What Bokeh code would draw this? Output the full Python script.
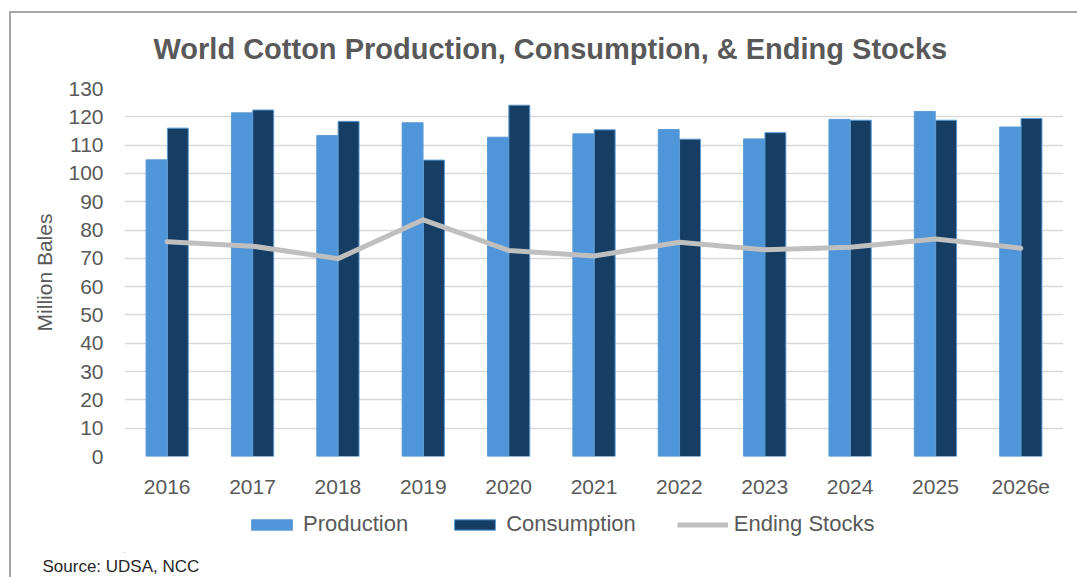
from bokeh.plotting import figure
from bokeh.layouts import column
from bokeh.models import (Range1d, FactorRange, Legend, LegendItem, Title,
                          ColumnDataSource, FixedTicker, InlineStyleSheet)
from bokeh.transform import dodge
from bokeh.embed import file_html
from bokeh.resources import INLINE

years = ["2016", "2017", "2018", "2019", "2020", "2021", "2022", "2023", "2024", "2025", "2026e"]
production = [104.8, 121.4, 113.4, 117.9, 112.8, 114.0, 115.5, 112.2, 119.1, 121.9, 116.4]
consumption = [116.0, 122.4, 118.4, 104.7, 124.1, 115.4, 112.1, 114.4, 118.8, 118.8, 119.4]
ending_stocks = [75.9, 74.3, 69.9, 83.6, 72.8, 70.8, 75.7, 73.0, 73.9, 76.8, 73.6]
y_ticks = list(range(0, 131, 10))

TEXT = "#595959"
FONT = "Liberation Sans"
PROD_C = "#4e95d9"
CONS_C = "#163d63"
EDGE_C = "#5b9bd5"
LINE_C = "#bfbfbf"

src = ColumnDataSource(dict(year=years, production=production,
                            consumption=consumption, stocks=ending_stocks))

css_top = InlineStyleSheet(css="""
:host { position: relative; }
:host::after {
  content: ""; position: absolute; left: 9px; top: 11px; right: 0; bottom: 0;
  border-top: 2px solid #a6a6a6; border-left: 2px solid #a6a6a6;
  pointer-events: none;
}
""")
css_bottom = InlineStyleSheet(css="""
:host { position: relative; }
:host::after {
  content: ""; position: absolute; left: 9px; top: 0; right: 0; bottom: 0;
  border-left: 2px solid #a6a6a6;
  pointer-events: none;
}
""")

p = figure(x_range=FactorRange(*years), y_range=Range1d(0, 130),
           width=1077, height=505, output_backend="svg", toolbar_location=None,
           min_border_left=124, min_border_right=14, min_border_top=88,
           min_border_bottom=49, stylesheets=[css_top])
p.outline_line_color = None
p.background_fill_color = "white"
p.border_fill_color = "white"

p.title.text = "World Cotton Production, Consumption, & Ending Stocks"
p.title.align = "left"
p.title.offset = 29
p.title.standoff = 48
p.title.text_font = FONT
p.title.text_font_style = "bold"
p.title.text_font_size = "29px"
p.title.text_color = TEXT

p.vbar(x=dodge("year", -0.125, range=p.x_range), top="production",
       width=0.245, source=src, fill_color=PROD_C, line_color=EDGE_C, line_width=1)
p.vbar(x=dodge("year", 0.125, range=p.x_range), top="consumption",
       width=0.245, source=src, fill_color=CONS_C, line_color=EDGE_C, line_width=1)
p.line(x="year", y="stocks", source=src, line_color=LINE_C,
       line_width=5, line_join="round", line_cap="round")

p.xgrid.grid_line_color = None
p.ygrid.grid_line_color = "#d9d9d9"
p.ygrid.grid_line_width = 1.5
p.yaxis.ticker = FixedTicker(ticks=y_ticks)

for ax in (p.xaxis, p.yaxis):
    ax.axis_line_color = None
    ax.major_tick_line_color = None
    ax.minor_tick_line_color = None
    ax.major_label_text_font = FONT
    ax.major_label_text_font_size = "21px"
    ax.major_label_text_color = TEXT

p.xaxis.major_label_standoff = 17
p.yaxis.major_label_standoff = 15
p.yaxis.axis_label = "Million Bales"
p.yaxis.axis_label_text_font = FONT
p.yaxis.axis_label_text_font_size = "21px"
p.yaxis.axis_label_text_font_style = "normal"
p.yaxis.axis_label_text_color = TEXT
p.yaxis.axis_label_standoff = 9

# legend + source strip below the chart
q = figure(width=1077, height=72, x_range=Range1d(0, 100), y_range=Range1d(0, 100),
           output_backend="svg", toolbar_location=None, x_axis_type=None,
           y_axis_type=None, min_border=0, stylesheets=[css_bottom])
q.outline_line_color = None
q.xgrid.grid_line_color = None
q.ygrid.grid_line_color = None
q.background_fill_color = "white"
q.border_fill_color = "white"

# legend proxies (kept outside the visible ranges)
lp = q.vbar(x=[-500], top=[-500], width=1, fill_color=PROD_C, line_color=EDGE_C, line_width=1)
lc = q.vbar(x=[-500], top=[-500], width=1, fill_color=CONS_C, line_color=EDGE_C, line_width=1)
ll = q.line(x=[-500, -400], y=[-500, -500], line_color=LINE_C, line_width=5)

legend = Legend(items=[LegendItem(label="Production", renderers=[lp]),
                       LegendItem(label="Consumption", renderers=[lc]),
                       LegendItem(label="Ending Stocks", renderers=[ll])],
                orientation="horizontal", location=(122, 15),
                glyph_width=51, glyph_height=13, label_standoff=6, spacing=41,
                padding=0, margin=0, border_line_alpha=0,
                background_fill_alpha=0, label_text_font=FONT,
                label_text_font_size="22px", label_text_color=TEXT,
                label_height=21)
q.add_layout(legend, "center")
q.add_layout(Title(text="Source: UDSA, NCC", align="left", offset=-82,
                   standoff=4, text_font=FONT, text_font_style="normal",
                   text_font_size="17px", text_color="#262626"), "below")

layout = column(p, q, spacing=0)
open("out.html", "w").write(file_html(layout, INLINE))
